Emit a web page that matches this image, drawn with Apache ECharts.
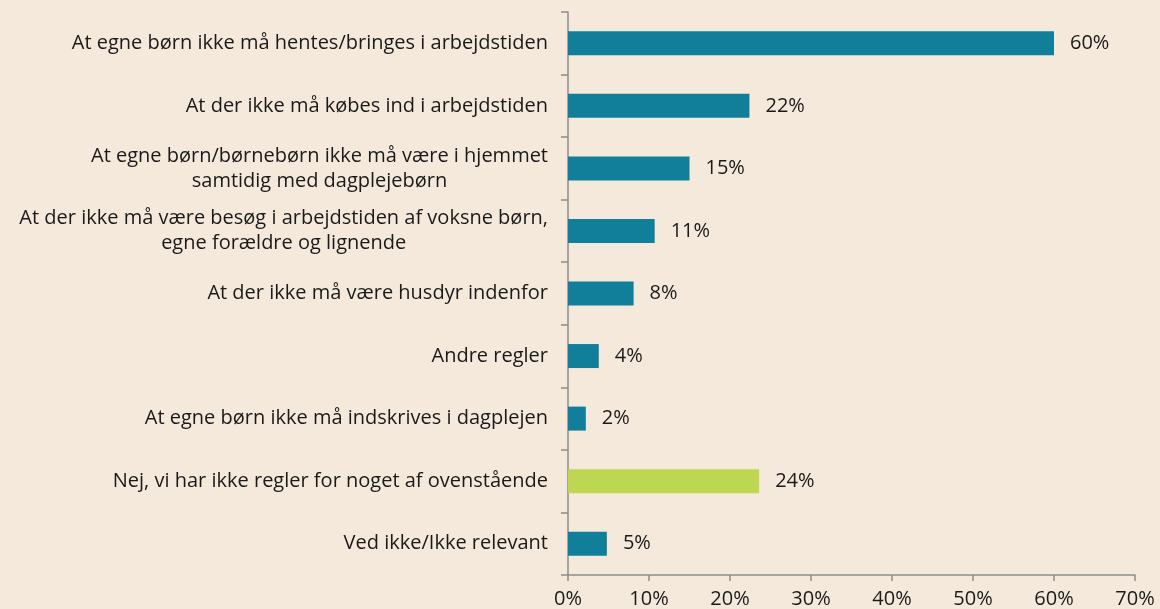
<!DOCTYPE html>
<html>
<head>
<meta charset="utf-8">
<script src="https://cdn.jsdelivr.net/npm/echarts@6/dist/echarts.min.js"></script>
<style>
html,body{margin:0;padding:0;background:#F5E9DC;}
#c{width:1160px;height:609px;}
</style>
</head>
<body>
<div id="c"></div>
<script>
const categories = [
  "At egne børn ikke må hentes/bringes i arbejdstiden",
  "At der ikke må købes ind i arbejdstiden",
  "At egne børn/børnebørn ikke må være i hjemmet\nsamtidig med dagplejebørn",
  "At der ikke må være besøg i arbejdstiden af voksne børn,\negne forældre og lignende",
  "At der ikke må være husdyr indenfor",
  "Andre regler",
  "At egne børn ikke må indskrives i dagplejen",
  "Nej, vi har ikke regler for noget af ovenstående",
  "Ved ikke/Ikke relevant"
];
const values = [60.0, 22.4, 15.0, 10.7, 8.1, 3.8, 2.2, 23.6, 4.8];
const valueLabels = ["60%", "22%", "15%", "11%", "8%", "4%", "2%", "24%", "5%"];
const xTicks = [0, 10, 20, 30, 40, 50, 60, 70];

const FONT = "'Open Sans', 'Noto Sans', sans-serif";
const FS = 20;
const chart = echarts.init(document.getElementById('c'));
chart.setOption({
  backgroundColor: '#F5E9DC',
  animation: false,
  grid: { left: 568, right: 25, top: 12, bottom: 34, containLabel: false },
  xAxis: {
    type: 'value',
    min: xTicks[0], max: xTicks[xTicks.length - 1], interval: 10,
    axisLine: { show: true, lineStyle: { color: '#8C8C8C', width: 1.5 } },
    axisTick: { show: true, length: 6, lineStyle: { color: '#8C8C8C', width: 1.5 } },
    splitLine: { show: false },
    axisLabel: { formatter: '{value}%', color: '#1a1a1a', fontSize: FS, fontFamily: FONT, margin: 14 }
  },
  yAxis: {
    type: 'category',
    inverse: true,
    data: categories,
    axisLine: { show: true, lineStyle: { color: '#8C8C8C', width: 1.5 } },
    axisTick: { show: true, length: 7, lineStyle: { color: '#8C8C8C', width: 1.5 } },
    axisLabel: {
      color: '#1a1a1a', fontSize: FS, fontFamily: FONT, margin: 20, lineHeight: 25,
      formatter: function (v) { return v.split('\n').map(l => '{c|' + l + '}').join('\n'); },
      rich: { c: { align: 'center', color: '#1a1a1a', fontSize: FS, fontFamily: FONT, lineHeight: 25 } }
    }
  },
  series: [{
    type: 'bar',
    data: values,
    barWidth: 24,
    itemStyle: {
      color: function (p) { return p.name.indexOf('Nej, vi har') === 0 ? '#BDD753' : '#117F9A'; }
    },
    label: {
      show: true, position: 'right', distance: 16,
      color: '#1a1a1a', fontSize: FS, fontFamily: FONT,
      formatter: function (p) { return valueLabels[p.dataIndex]; }
    }
  }]
});
</script>
</body>
</html>
